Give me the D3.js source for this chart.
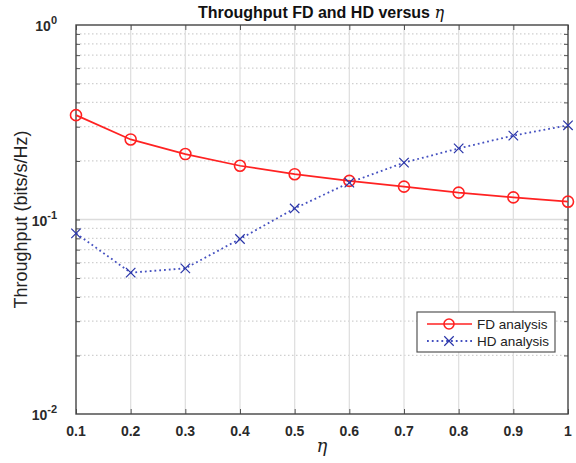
<!DOCTYPE html>
<html>
<head>
<meta charset="utf-8">
<script src="https://cdn.jsdelivr.net/npm/d3@7"></script>
<style>
  body { margin: 0; background: #fff; }
  text { font-family: "Liberation Sans", Arial, sans-serif; }
</style>
</head>
<body>
<svg id="chart" width="576" height="463"></svg>
<script>
// data
const eta = [0.1, 0.2, 0.3, 0.4, 0.5, 0.6, 0.7, 0.8, 0.9, 1.0];
const fd = [0.344, 0.258, 0.217, 0.189, 0.171, 0.158, 0.1475, 0.1374, 0.130, 0.1235];
const hd = [0.0849, 0.0533, 0.0561, 0.0794, 0.114, 0.1546, 0.196, 0.232, 0.270, 0.305];
const xTicks = [0.1, 0.2, 0.3, 0.4, 0.5, 0.6, 0.7, 0.8, 0.9, 1];
const yDecades = [-2, -1, 0];

const svg = d3.select('#chart');
const pL = 76, pR = 568, pT = 25, pB = 414;

let x = d3.scaleLinear().domain([0.1, 1]).range([pL, pR]);
let y = d3.scaleLog().domain([0.01, 1]).range([pB, pT]);

// minor grid (dotted) at 2..9 of each decade
let minor = [];
[0.01, 0.1].forEach(b => { for (let k = 2; k <= 9; k++) minor.push(b * k); });

let grid = svg.append('g');
grid.selectAll('line.minor')
  .data(minor).enter().append('line')
  .attr('x1', pL).attr('x2', pR)
  .attr('y1', d => y(d)).attr('y2', d => y(d))
  .style('stroke', '#d0d0d0').style('stroke-width', 1.2)
  .style('stroke-dasharray', '1.5,2.5');
grid.selectAll('line.major')
  .data([0.1]).enter().append('line')
  .attr('x1', pL).attr('x2', pR)
  .attr('y1', d => y(d)).attr('y2', d => y(d))
  .style('stroke', '#dcdcdc').style('stroke-width', 1.3);
grid.selectAll('line.vx')
  .data(xTicks.slice(1, -1)).enter().append('line')
  .attr('x1', d => x(d)).attr('x2', d => x(d))
  .attr('y1', pT).attr('y2', pB)
  .style('stroke', '#e0e0e0').style('stroke-width', 1.3);

// axes with inward ticks (all four sides)
const tickCol = '#555';
svg.append('g').attr('transform', `translate(0,${pB})`)
  .call(d3.axisBottom(x).tickValues(xTicks).tickSizeInner(-5).tickSizeOuter(0).tickFormat(''))
  .call(g => g.select('.domain').remove())
  .call(g => g.selectAll('line').style('stroke', tickCol));
svg.append('g').attr('transform', `translate(0,${pT})`)
  .call(d3.axisTop(x).tickValues(xTicks).tickSizeInner(-5).tickSizeOuter(0).tickFormat(''))
  .call(g => g.select('.domain').remove())
  .call(g => g.selectAll('line').style('stroke', tickCol));
let yt = minor.concat([0.1]);
svg.append('g').attr('transform', `translate(${pL},0)`)
  .call(d3.axisLeft(y).tickValues(yt).tickSizeInner(-4).tickSizeOuter(0).tickFormat(''))
  .call(g => g.select('.domain').remove())
  .call(g => g.selectAll('line').style('stroke', tickCol));
svg.append('g').attr('transform', `translate(${pR},0)`)
  .call(d3.axisRight(y).tickValues(yt).tickSizeInner(-4).tickSizeOuter(0).tickFormat(''))
  .call(g => g.select('.domain').remove())
  .call(g => g.selectAll('line').style('stroke', tickCol));

svg.append('rect')
  .attr('x', pL).attr('y', pT)
  .attr('width', pR - pL).attr('height', pB - pT)
  .style('fill', 'none').style('stroke', '#444').style('stroke-width', 1.4);

// tick labels
svg.append('g').selectAll('text')
  .data(xTicks).enter().append('text')
  .attr('x', d => x(d)).attr('y', pB + 22)
  .style('text-anchor', 'middle').style('font-size', '14px').style('font-weight', 'bold').style('fill', '#2a2a2a')
  .text(d => d3.format('.1~f')(d));

let yl = svg.append('g').selectAll('text')
  .data(yDecades).enter().append('text')
  .attr('x', pL - 19).attr('y', d => y(Math.pow(10, d)) + 6)
  .style('text-anchor', 'end').style('font-size', '14px').style('font-weight', 'bold').style('fill', '#2a2a2a');
yl.append('tspan').text('10');
yl.append('tspan').attr('dy', -7).style('font-size', '11px').text(d => d);

// lines
let line = d3.line().x((d, i) => x(eta[i])).y(d => y(d));

svg.append('path').datum(fd).attr('d', line)
  .style('fill', 'none').style('stroke', '#f22').style('stroke-width', 1.7);
svg.append('path').datum(hd).attr('d', line)
  .style('fill', 'none').style('stroke', '#4450c0').style('stroke-width', 1.8)
  .style('stroke-dasharray', '1.8,3');

svg.append('g').selectAll('circle')
  .data(fd).enter().append('circle')
  .attr('cx', (d, i) => x(eta[i])).attr('cy', d => y(d)).attr('r', 5.5)
  .style('fill', 'none').style('stroke', '#f22').style('stroke-width', 1.6);

let cross = d3.symbol().type(d3.symbolX).size(60);
svg.append('g').selectAll('path')
  .data(hd).enter().append('path')
  .attr('d', cross)
  .attr('transform', (d, i) => `translate(${x(eta[i])},${y(d)})`)
  .style('fill', '#2a35a8').style('stroke', '#2a35a8').style('stroke-width', 1.2);

// legend
let lg = svg.append('g').attr('transform', 'translate(417,312)');
lg.append('rect').attr('width', 138).attr('height', 40)
  .style('fill', '#fff').style('stroke', '#555').style('stroke-width', 1.2);
lg.append('line').attr('x1', 10).attr('x2', 55).attr('y1', 12).attr('y2', 12)
  .style('stroke', '#f22').style('stroke-width', 1.7);
lg.append('circle').attr('cx', 32).attr('cy', 12).attr('r', 5)
  .style('fill', 'none').style('stroke', '#f22').style('stroke-width', 1.6);
lg.append('line').attr('x1', 10).attr('x2', 55).attr('y1', 29).attr('y2', 29)
  .style('stroke', '#4450c0').style('stroke-width', 1.8).style('stroke-dasharray', '1.8,3');
lg.append('path').attr('d', cross).attr('transform', 'translate(32,29)')
  .style('fill', '#2a35a8').style('stroke', '#2a35a8').style('stroke-width', 1.2);
lg.append('text').attr('x', 60).attr('y', 17).style('font-size', '13.5px').style('fill', '#222').text('FD analysis');
lg.append('text').attr('x', 60).attr('y', 34).style('font-size', '13.5px').style('fill', '#222').text('HD analysis');

// titles
let title = svg.append('text')
  .attr('x', 321).attr('y', 18)
  .style('text-anchor', 'middle').style('font-size', '16px').style('font-weight', 'bold').style('fill', '#111');
title.append('tspan').text('Throughput FD and HD versus ');
title.append('tspan').style('font-family', '"DejaVu Serif", serif').style('font-style', 'italic').style('font-weight', 'normal').text('η');

svg.append('text')
  .attr('x', 322).attr('y', 452)
  .style('text-anchor', 'middle').style('font-size', '18px').style('font-style', 'italic')
  .style('font-family', '"DejaVu Serif", serif').style('fill', '#222')
  .text('η');

svg.append('text')
  .attr('transform', `translate(27,${(pT + pB) / 2}) rotate(-90)`)
  .style('text-anchor', 'middle').style('font-size', '18px').style('fill', '#222')
  .text('Throughput (bits/s/Hz)');
</script>
</body>
</html>
